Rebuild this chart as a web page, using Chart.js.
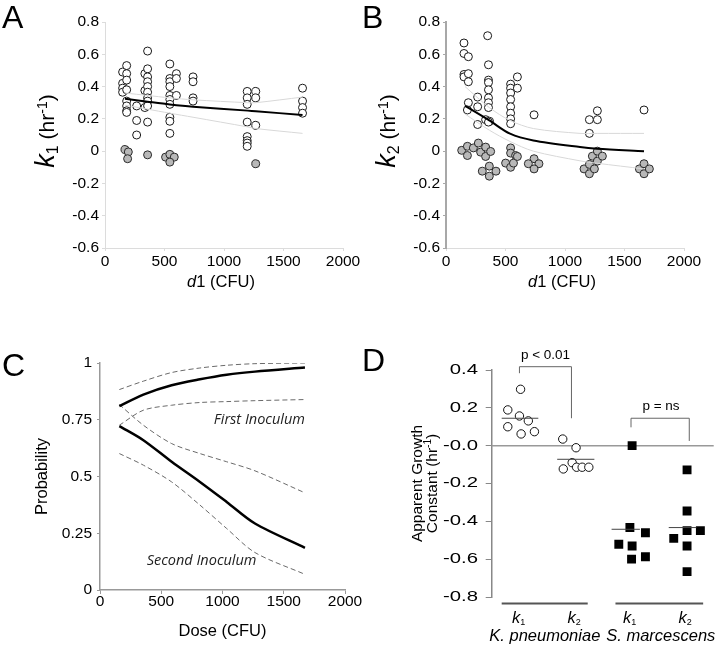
<!DOCTYPE html>
<html><head><meta charset="utf-8">
<script src="https://cdn.jsdelivr.net/npm/chart.js@4.4.0/dist/chart.umd.min.js"></script>
<style>
body{margin:0;background:#fff;width:720px;height:645px;position:relative;overflow:hidden;font-family:"Liberation Sans",Arial,sans-serif;}
canvas{position:absolute;}
.letter{position:absolute;font-size:32px;line-height:32px;color:#000;font-family:"Liberation Sans",Arial,sans-serif;}
</style></head><body>
<canvas id="cA" width="380" height="320" style="left:0;top:0"></canvas>
<canvas id="cB" width="360" height="320" style="left:360px;top:0"></canvas>
<canvas id="cC" width="380" height="325" style="left:0;top:320px"></canvas>
<canvas id="cD" width="360" height="325" style="left:360px;top:320px"></canvas>
<div class="letter" style="left:2px;top:1px">A</div>
<div class="letter" style="left:362px;top:1px">B</div>
<div class="letter" style="left:2px;top:349px">C</div>
<div class="letter" style="left:362px;top:344px">D</div>
<script>
const FONT = '"Liberation Sans", Arial, Helvetica, sans-serif';
const HFONT = '"Open Sans", "Noto Sans", sans-serif';

// ---- tick labels ----
const abYTickLabels = ["-0.6","-0.4","-0.2","0","0.2","0.4","0.6","0.8"];
const doseTickLabels = ["0","500","1000","1500","2000"];
const cYTickLabels = ["0","0.25","0.5","0.75","1"];
const dYTickLabels = ["-0.8","-0.6","-0.4","-0.2","-0.0","0.2","0.4"];

// ---- Panel A: k1 vs d1 ----
const aOpen = [
 [148,0.49],[148,0.42],[148,0.39],[148,0.365],
 [182,0.53],[182,0.48],[182,0.44],[182,0.38],[182,0.31],[182,0.28],[182,0.25],[182,0.24],
 [266,0.28],[266,0.19],[266,0.10],
 [335,0.48],[335,0.375],[335,0.27],
 [358,0.62],[358,0.51],[358,0.46],[358,0.43],[358,0.40],[358,0.365],[358,0.33],[358,0.31],[358,0.28],[358,0.18],
 [545,0.54],[545,0.45],[545,0.43],[545,0.40],[545,0.345],[545,0.32],[545,0.29],[545,0.21],[545,0.185],[545,0.11],
 [600,0.48],[600,0.45],[600,0.345],
 [740,0.46],[740,0.43],[740,0.33],[740,0.31],
 [1195,0.37],[1195,0.33],[1195,0.29],[1195,0.18],[1195,0.09],[1195,0.065],[1195,0.05],[1195,0.03],
 [1267,0.37],[1267,0.33],[1267,0.16],
 [1660,0.39],[1660,0.31],[1660,0.27],[1660,0.235]
];
const aGray = [[168,0.01],[196,-0.005],[190,-0.047],[358,-0.023],[509,-0.037],[545,-0.02],[582,-0.037],[545,-0.068],[1267,-0.078]];
const aFitDose = [168,358,545,740,1200,1267,1660];
const aFit   = [0.324,0.306,0.289,0.275,0.251,0.247,0.224];
const aFitHi = [0.36,0.345,0.33,0.318,0.30,0.30,0.335];
const aFitLo = [0.285,0.26,0.235,0.21,0.15,0.14,0.11];

// ---- Panel B: k2 vs d1 ----
const bOpen = [
 [151,0.67],[151,0.605],[151,0.475],[151,0.46],[188,0.585],[188,0.48],[188,0.43],[188,0.30],[180,0.255],
 [266,0.335],[266,0.275],[266,0.165],
 [350,0.715],[357,0.535],[357,0.44],[357,0.425],[357,0.38],[357,0.33],[357,0.30],[357,0.27],[333,0.195],[366,0.185],[357,0.18],
 [543,0.415],[543,0.39],[543,0.36],[543,0.32],[543,0.275],[543,0.235],[543,0.20],[543,0.17],
 [600,0.46],[600,0.39],[740,0.225],
 [1205,0.195],[1205,0.11],[1272,0.25],[1272,0.195],[1664,0.255]
];
const bGray = [
 [132,0.005],[180,0.03],[180,-0.027],[230,0.02],[272,0.05],[291,-0.006],[333,0.025],[333,-0.033],[375,-0.002],
 [305,-0.124],[364,-0.093],[364,-0.155],[420,-0.124],
 [543,0.02],[543,-0.012],[501,-0.074],[585,-0.027],[543,-0.1],[567,-0.074],[600,-0.033],
 [740,-0.047],[692,-0.078],[781,-0.078],[740,-0.11],
 [1160,-0.11],[1205,-0.14],[1205,-0.082],[1247,-0.11],[1230,-0.031],[1272,0],[1272,-0.062],[1314,-0.031],
 [1625,-0.11],[1664,-0.078],[1664,-0.14],[1709,-0.11]
];
const bFitDose = [160,364,538,734,1126,1270,1664];
const bFit   = [0.28,0.19,0.108,0.066,0.025,0.015,0.0];
const bFitHi = [0.40,0.27,0.19,0.14,0.11,0.11,0.11];
const bFitLo = [0.23,0.13,0.06,0.0,-0.06,-0.075,-0.11];

// ---- Panel C: probability vs dose ----
const cDose = [158,354,585,816,1034,1265,1673];
const cFirst    = [0.81,0.861,0.902,0.928,0.948,0.962,0.980];
const cFirstHi  = [0.883,0.92,0.958,0.978,0.99,0.997,1.0];
const cFirstLo  = [0.726,0.792,0.814,0.826,0.830,0.834,0.839];
const cSecond   = [0.722,0.66,0.565,0.476,0.388,0.293,0.186];
const cSecondHi = [0.817,0.726,0.645,0.601,0.565,0.525,0.428];
const cSecondLo = [0.601,0.55,0.476,0.374,0.271,0.165,0.069];

// ---- Panel D: apparent growth constants ----
const dCategories = ["k1","k2","k1","k2"];
const dSpecies = ["K. pneumoniae","S. marcescens"];
const dKpK1 = [0.298,0.189,0.157,0.131,0.10,0.062,0.074];
const dKpK1Jit = [0,-0.23,-0.02,0.14,-0.23,0.01,0.25];
const dKpK2 = [0.035,-0.011,-0.09,-0.123,-0.114,-0.114,-0.114];
const dKpK2Jit = [-0.24,0,-0.07,-0.23,0.01,0.11,0.23];
const dSmK1 = [0.0,-0.433,-0.46,-0.521,-0.53,-0.60,-0.587];
const dSmK1Jit = [0.01,-0.03,0.25,-0.23,0.01,0,0.25];
const dSmK2 = [-0.128,-0.345,-0.49,-0.449,-0.449,-0.53,-0.666];
const dSmK2Jit = [0,0,-0.24,0,0.24,0,0];
const dMeans = [0.145,-0.072,-0.442,-0.433];

// ---------- helpers ----------
const pairs = arr => arr.map(p => ({x:p[0], y:p[1]}));
const zipXY = (xs, ys) => xs.map((x,i) => ({x, y:ys[i]}));
const jit = (cat, jits, ys) => ys.map((y,i) => ({x: cat + jits[i], y}));

function drawRuns(ctx, runs, x, y, rot, align, color){
  ctx.save(); ctx.translate(x,y); ctx.rotate(rot||0);
  let total = 0;
  runs.forEach(r => { ctx.font = r.font; r.w = ctx.measureText(r.t).width; total += r.w; });
  let cx = align === 'center' ? -total/2 : (align === 'right' ? -total : 0);
  ctx.textBaseline = 'alphabetic'; ctx.textAlign = 'left'; ctx.fillStyle = color || '#000';
  runs.forEach(r => { ctx.font = r.font; ctx.fillText(r.t, cx, r.dy || 0); cx += r.w; });
  ctx.restore();
}
const F = (s, it) => (it ? 'italic ' : '') + s + 'px ' + FONT;

function scatterPanel(id, opts){
  const datasets = [
    {type:'line', data: zipXY(opts.fitDose, opts.fit), borderColor:'#000', borderWidth:2, pointRadius:0, tension:0.3, fill:false},
    {type:'line', data: zipXY(opts.fitDose, opts.hi), borderColor:'#d8d8d8', borderWidth:1, pointRadius:0, tension:0.3, fill:false},
    {type:'line', data: zipXY(opts.fitDose, opts.lo), borderColor:'#d8d8d8', borderWidth:1, pointRadius:0, tension:0.3, fill:false},
    {type:'scatter', data: pairs(opts.open), backgroundColor:'#fff', borderColor:'#1a1a1a', borderWidth:1, pointRadius:4},
    {type:'scatter', data: pairs(opts.gray), backgroundColor:'#b8b8b8', borderColor:'#2a2a2a', borderWidth:1, pointRadius:4}
  ];
  new Chart(document.getElementById(id), {
    type:'scatter',
    data:{datasets},
    options:{
      responsive:false, animation:false, devicePixelRatio:1,
      layout:{padding:{left:0, top:22, right:opts.padRight, bottom:0}},
      plugins:{legend:{display:false}, tooltip:{enabled:false}},
      scales:{
        x:{type:'linear', min:0, max:2000,
           ticks:{stepSize:500, autoSkip:false, maxRotation:0, padding:1, color:'#000',
                  font:{family:FONT, size:15.5}, callback:(v,i)=>doseTickLabels[i]},
           grid:{drawOnChartArea:false, drawTicks:true, tickLength:3, color:'#dcdcdc'},
           border:{display:true, color:'#dcdcdc', width:1},
           afterFit: s => { s.height = 72; }},
        y:{type:'linear', min:-0.6, max:0.8,
           ticks:{stepSize:0.2, autoSkip:false, padding:3, color:'#000',
                  font:{family:FONT, size:15.5}, callback:(v,i)=>abYTickLabels[i]},
           grid:{drawOnChartArea:false, drawTicks:true, tickLength:3, color:opts.yColor},
           border:{display:true, color:opts.yColor, width:opts.yWidth},
           afterFit: s => { s.width = opts.yWidth0; }}
      }
    },
    plugins:[{id:'titles'+id, afterDraw(chart){
      const ctx = chart.ctx, ca = chart.chartArea;
      drawRuns(ctx, [
        {t:'k', font:F(27,true)}, {t:opts.sub, font:F(16), dy:4},
        {t:' (hr', font:F(21)}, {t:'-1', font:F(14), dy:-7}, {t:')', font:F(21)}
      ], ca.left - 51, 131, -Math.PI/2, 'center');
      drawRuns(ctx, [
        {t:'d', font:F(16.5,true)}, {t:'1 (CFU)', font:F(16.5)}
      ], (ca.left+ca.right)/2 - 3, ca.bottom + 39, 0, 'center');
    }}]
  });
}

scatterPanel('cA', {open:aOpen, gray:aGray, fitDose:aFitDose, fit:aFit, hi:aFitHi, lo:aFitLo,
  padRight:37, yColor:'#dcdcdc', yWidth:1, yWidth0:105, sub:'1'});
scatterPanel('cB', {open:bOpen, gray:bGray, fitDose:bFitDose, fit:bFit, hi:bFitHi, lo:bFitLo,
  padRight:36, yColor:'#a8a8a8', yWidth:2, yWidth0:86, sub:'2'});

// ---------- Panel C ----------
const dashStyle = {borderColor:'#6a6a6a', borderWidth:1, borderDash:[5,3], pointRadius:0, tension:0.3, fill:false};
const solidStyle = {borderColor:'#000', borderWidth:2.5, pointRadius:0, tension:0.3, fill:false};
new Chart(document.getElementById('cC'), {
  type:'line',
  data:{datasets:[
    Object.assign({data:zipXY(cDose,cFirst)}, solidStyle),
    Object.assign({data:zipXY(cDose,cSecond)}, solidStyle),
    Object.assign({data:zipXY(cDose,cFirstHi)}, dashStyle),
    Object.assign({data:zipXY(cDose,cFirstLo)}, dashStyle),
    Object.assign({data:zipXY(cDose,cSecondHi)}, dashStyle),
    Object.assign({data:zipXY(cDose,cSecondLo)}, dashStyle)
  ]},
  options:{
    responsive:false, animation:false, devicePixelRatio:1,
    layout:{padding:{left:0, top:43, right:35, bottom:0}},
    plugins:{legend:{display:false}, tooltip:{enabled:false}},
    scales:{
      x:{type:'linear', min:0, max:2000,
         ticks:{stepSize:500, autoSkip:false, maxRotation:0, padding:-2, color:'#000',
                font:{family:FONT, size:15.5}, callback:(v,i)=>doseTickLabels[i]},
         grid:{drawOnChartArea:false, drawTicks:true, tickLength:4, color:'#999'},
         border:{display:true, color:'#999', width:1.5},
         title:{display:true, text:'Dose (CFU)', color:'#000', font:{family:FONT, size:16.5}, padding:{top:0,bottom:4}},
         afterFit: s => { s.height = 55; }},
      y:{type:'linear', min:0, max:1,
         ticks:{stepSize:0.25, autoSkip:false, padding:5, color:'#000',
                font:{family:FONT, size:15.5}, callback:(v,i)=>cYTickLabels[i]},
         grid:{drawOnChartArea:false, drawTicks:true, tickLength:3, color:'#999'},
         border:{display:true, color:'#999', width:1.5},
         title:{display:true, text:'Probability', color:'#000', font:{family:FONT, size:16.5}, padding:{top:33,bottom:0}},
         afterFit: s => { s.width = 100; }}
    }
  },
  plugins:[{id:'cLabels', afterDraw(chart){
    const ctx = chart.ctx, xs = chart.scales.x, ys = chart.scales.y;
    drawRuns(ctx, [{t:'First Inoculum', font:'italic 14.5px ' + HFONT}], xs.getPixelForValue(1673), ys.getPixelForValue(0.755)+5, 0, 'right', '#222');
    drawRuns(ctx, [{t:'Second Inoculum', font:'italic 14.5px ' + HFONT}], xs.getPixelForValue(381), ys.getPixelForValue(0.132)+5, 0, 'left', '#222');
  }}]
});

// ---------- Panel D ----------
const meanL = [-0.34,-0.34,-0.36,-0.33], meanR = [0.32,0.33,0.15,0.17];
const meanSets = dMeans.map((m,i) => ({type:'line', data:[{x:i+meanL[i], y:m},{x:i+meanR[i], y:m}],
  borderColor:'#444', borderWidth:1, pointRadius:0, fill:false}));
new Chart(document.getElementById('cD'), {
  type:'scatter',
  data:{datasets:[
    ...meanSets,
    {data:jit(0,dKpK1Jit,dKpK1), backgroundColor:'#fff', borderColor:'#111', borderWidth:1, pointRadius:4.2},
    {data:jit(1,dKpK2Jit,dKpK2), backgroundColor:'#fff', borderColor:'#111', borderWidth:1, pointRadius:4.2},
    {data:jit(2,dSmK1Jit,dSmK1), backgroundColor:'#000', borderColor:'#000', borderWidth:0, pointRadius:6.3, pointStyle:'rect'},
    {data:jit(3,dSmK2Jit,dSmK2), backgroundColor:'#000', borderColor:'#000', borderWidth:0, pointRadius:6.3, pointStyle:'rect'}
  ]},
  options:{
    responsive:false, animation:false, devicePixelRatio:1,
    layout:{padding:{left:0, top:50, right:0, bottom:48}},
    plugins:{legend:{display:false}, tooltip:{enabled:false}},
    scales:{
      x:{type:'linear', min:-0.52, max:3.48, display:false},
      y:{type:'linear', min:-0.8, max:0.4,
         ticks:{stepSize:0.2, autoSkip:false, padding:8, color:'rgba(0,0,0,0)',
                font:{family:FONT, size:14}, callback:(v,i)=>dYTickLabels[i]},
         grid:{drawOnChartArea:false, drawTicks:true, tickLength:6, color:'#888'},
         border:{display:true, color:'#888', width:1.5},
         afterFit: s => { s.width = 131.7; }}
    }
  },
  plugins:[{id:'dExtras', beforeDatasetsDraw(chart){
    const ctx = chart.ctx, ca = chart.chartArea, ys = chart.scales.y;
    ctx.save(); ctx.strokeStyle = '#999'; ctx.lineWidth = 1.5;
    const y0 = ys.getPixelForValue(0);
    ctx.beginPath(); ctx.moveTo(ca.left, y0); ctx.lineTo(ca.right, y0); ctx.stroke();
    ctx.restore();
  }, afterDraw(chart){
    const ctx = chart.ctx, ca = chart.chartArea, xs = chart.scales.x, ys = chart.scales.y;
    // y tick labels (wide face)
    ys.ticks.forEach((t,i) => {
      ctx.save(); ctx.translate(ca.left - 13.7, ys.getPixelForValue(t.value));
      ctx.scale(1.45, 1); ctx.font = '14px ' + FONT; ctx.fillStyle = '#000';
      ctx.textAlign = 'right'; ctx.textBaseline = 'middle';
      ctx.fillText(dYTickLabels[i], 0, 0); ctx.restore();
    });
    // y title
    const cy = (ca.top + ca.bottom)/2;
    drawRuns(ctx, [{t:'Apparent Growth', font:F(15.5)}], ca.left - 70, cy, -Math.PI/2, 'center');
    drawRuns(ctx, [{t:'Constant (hr', font:F(15.5)}, {t:'-1', font:F(10), dy:-6}, {t:')', font:F(15.5)}], ca.left - 55, cy, -Math.PI/2, 'center');
    // brackets
    ctx.save(); ctx.strokeStyle = '#666'; ctx.lineWidth = 1;
    const br = (x1, x2, top, l, r) => {
      ctx.beginPath();
      ctx.moveTo(xs.getPixelForValue(x1), ys.getPixelForValue(l));
      ctx.lineTo(xs.getPixelForValue(x1), ys.getPixelForValue(top));
      ctx.lineTo(xs.getPixelForValue(x2), ys.getPixelForValue(top));
      ctx.lineTo(xs.getPixelForValue(x2), ys.getPixelForValue(r));
      ctx.stroke();
    };
    br(-0.02, 0.917, 0.4175, 0.383, 0.145);
    br(1.99, 3.04, 0.145, 0.097, 0.025);
    ctx.restore();
    ctx.save(); ctx.fillStyle = '#000'; ctx.font = '13.5px ' + FONT; ctx.textAlign = 'center'; ctx.textBaseline = 'middle';
    ctx.fillText('p < 0.01', xs.getPixelForValue(0.45), ys.getPixelForValue(0.48));
    ctx.fillText('p = ns', xs.getPixelForValue(2.53), ys.getPixelForValue(0.206));
    ctx.restore();
    // group underlines
    ctx.save(); ctx.strokeStyle = '#555'; ctx.lineWidth = 2;
    const gy = ca.bottom + 6.5;
    [[-0.34,1.21],[1.71,3.29]].forEach(g => {
      ctx.beginPath(); ctx.moveTo(xs.getPixelForValue(g[0]), gy); ctx.lineTo(xs.getPixelForValue(g[1]), gy); ctx.stroke();
    });
    ctx.restore();
    // category labels
    dCategories.forEach((c,i) => {
      drawRuns(ctx, [{t:c[0], font:F(16.5,true)}, {t:c.slice(1), font:F(9), dy:2}], xs.getPixelForValue(i) - 2, ca.bottom + 26, 0, 'center');
    });
    const spShift = [-3.5, 1.5];
    dSpecies.forEach((s,i) => {
      drawRuns(ctx, [{t:s, font:F(16.5,true)}], (xs.getPixelForValue(2*i) + xs.getPixelForValue(2*i+1))/2 + spShift[i], ca.bottom + 44, 0, 'center');
    });
  }}]
});
</script>
</body></html>
